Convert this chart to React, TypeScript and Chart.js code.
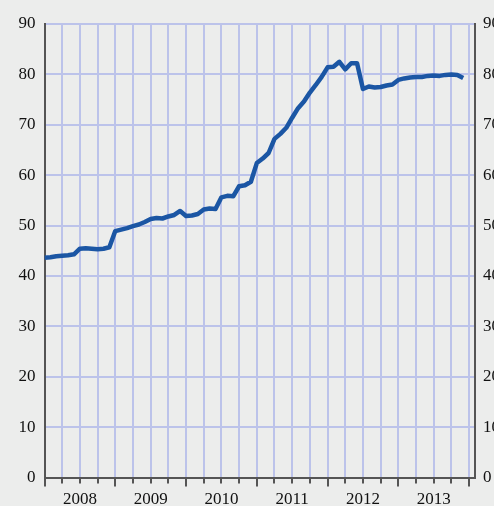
import React, { useEffect, useRef } from "react";
import { Chart, registerables } from "chart.js";

Chart.register(...registerables);

// Monthly values, Jan..Dec of each year
const years = ["2008", "2009", "2010", "2011", "2012", "2013"];
const v2008 = [43.6, 43.7, 43.9, 44.0, 44.1, 44.3, 45.4, 45.5, 45.4, 45.3, 45.4, 45.7];
const v2009 = [48.9, 49.2, 49.5, 49.9, 50.2, 50.7, 51.3, 51.5, 51.4, 51.8, 52.1, 52.9];
const v2010 = [51.9, 52.0, 52.3, 53.2, 53.4, 53.3, 55.6, 55.9, 55.8, 57.8, 58.0, 58.7];
const v2011 = [62.4, 63.3, 64.4, 67.2, 68.2, 69.4, 71.4, 73.3, 74.6, 76.4, 77.9, 79.5];
const v2012 = [81.4, 81.5, 82.5, 81.0, 82.2, 82.2, 77.1, 77.6, 77.4, 77.5, 77.8, 78.0];
const v2013 = [78.9, 79.2, 79.4, 79.5, 79.5, 79.7, 79.8, 79.7, 79.9, 80.0, 79.9, 79.3];
const seriesValues = [...v2008, ...v2009, ...v2010, ...v2011, ...v2012, ...v2013];

const yTicks = [0, 10, 20, 30, 40, 50, 60, 70, 80, 90];
const quarterTicks = [0, 3, 6, 9, 12, 15, 18, 21, 24, 27, 30, 33, 36, 39, 42, 45, 48, 51, 54, 57, 60, 63, 66, 69, 72];
const yearLabelTicks = [6, 18, 30, 42, 54, 66];

const BG = "#ecedec";
const GRID = "#bcc3ea";
const AXIS = "#555555";
const LINE = "#1b56a4";
const FONT = { family: "'Liberation Serif', 'Times New Roman', serif", size: 17 };

const CW = 520;
const CH = 506;

const tickMarks = {
  id: "tickMarks",
  afterDraw(chart: any) {
    const sc = chart.scales.x;
    const ctx = chart.ctx;
    const b = chart.chartArea.bottom;
    ctx.save();
    ctx.strokeStyle = AXIS;
    ctx.lineWidth = 2;
    for (const m of quarterTicks) {
      const x = Math.round(sc.getPixelForValue(m));
      const len = m % 12 === 0 ? 9 : 6;
      ctx.beginPath();
      ctx.moveTo(x, b);
      ctx.lineTo(x, b + len);
      ctx.stroke();
    }
    ctx.restore();
  },
};

export default function App() {
  const ref = useRef<HTMLCanvasElement | null>(null);

  useEffect(() => {
    if (!ref.current) return;
    const data = seriesValues.map((v, i) => ({ x: i, y: v }));
    const chart = new Chart(ref.current, {
      type: "line",
      data: {
        datasets: [
          {
            data,
            borderColor: LINE,
            borderWidth: 4.5,
            pointRadius: 0,
            tension: 0,
            fill: false,
            borderJoinStyle: "round",
            borderCapStyle: "butt",
          },
        ],
      },
      options: {
        responsive: false,
        animation: false,
        devicePixelRatio: 1,
        layout: { padding: { top: 24, left: 0, right: 0, bottom: 0 } },
        plugins: { legend: { display: false }, tooltip: { enabled: false } },
        scales: {
          x: {
            type: "linear",
            min: 0,
            max: 73,
            afterBuildTicks: (scale: any) => {
              scale.ticks = quarterTicks.map((v) => ({ value: v }));
            },
            afterFit: (scale: any) => {
              scale.height = CH - 477.5;
            },
            grid: {
              drawTicks: false,
              color: (c: any) => (c.tick && c.tick.value === 0 ? "rgba(0,0,0,0)" : GRID),
              lineWidth: 2,
            },
            border: { color: AXIS, width: 2 },
            ticks: {
              autoSkip: false,
              maxRotation: 0,
              minRotation: 0,
              padding: 12,
              color: "#111",
              font: FONT,
              callback: (value: any) => {
                const k = yearLabelTicks.indexOf(Number(value));
                return k >= 0 ? years[k] : "";
              },
            },
          },
          y: {
            type: "linear",
            position: "left",
            min: 0,
            max: 90,
            afterBuildTicks: (scale: any) => {
              scale.ticks = yTicks.map((v) => ({ value: v }));
            },
            afterFit: (scale: any) => {
              scale.width = 44.5;
            },
            grid: {
              drawTicks: false,
              color: (c: any) => (c.tick && c.tick.value === 0 ? "rgba(0,0,0,0)" : GRID),
              lineWidth: 2,
            },
            border: { color: AXIS, width: 2 },
            ticks: { padding: 9, color: "#111", font: FONT },
          },
          y2: {
            type: "linear",
            position: "right",
            min: 0,
            max: 90,
            afterBuildTicks: (scale: any) => {
              scale.ticks = yTicks.map((v) => ({ value: v }));
            },
            afterFit: (scale: any) => {
              scale.width = CW - 475;
            },
            grid: { display: false, drawTicks: false },
            border: { color: AXIS, width: 2 },
            ticks: { padding: 8, color: "#111", font: FONT },
          },
        },
      },
      plugins: [tickMarks],
    });
    return () => chart.destroy();
  }, []);

  return (
    <div
      style={{
        position: "fixed",
        left: 0,
        top: 0,
        width: 494,
        height: 506,
        background: BG,
        overflow: "hidden",
      }}
    >
      <canvas ref={ref} width={CW} height={CH} style={{ display: "block", width: CW, height: CH }} />
    </div>
  );
}
